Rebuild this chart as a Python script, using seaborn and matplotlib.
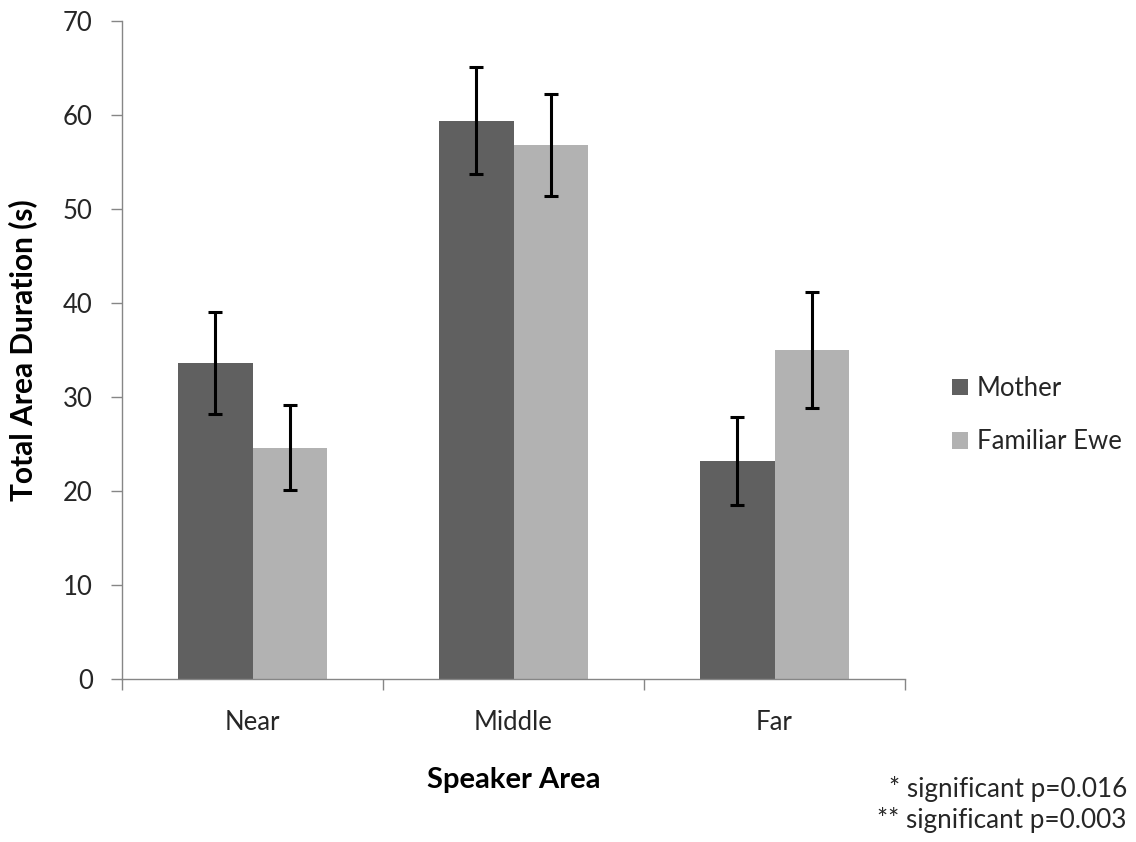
import matplotlib
matplotlib.use("Agg")
import matplotlib.pyplot as plt
import numpy as np
import pandas as pd
import seaborn as sns

# Mean time spent in each speaker area, with standard errors
areas = ["Near", "Middle", "Far"]
groups = ["Mother", "Familiar Ewe"]
mother_mean = [33.6, 59.4, 23.2]
mother_sem = [5.4, 5.7, 4.7]
ewe_mean = [24.6, 56.8, 35.0]
ewe_sem = [4.5, 5.4, 6.2]
y_ticks = [0, 10, 20, 30, 40, 50, 60, 70]
footnotes = ["* significant p=0.016", "** significant p=0.003"]

df = pd.DataFrame({
    "Speaker Area": areas * 2,
    "Duration": mother_mean + ewe_mean,
    "Group": [groups[0]] * 3 + [groups[1]] * 3,
})
sems = {groups[0]: mother_sem, groups[1]: ewe_sem}

sns.set_theme(style="white")
plt.rcParams["font.family"] = ["Lato", "DejaVu Sans"]

text_color = "#262626"
axis_color = "#868686"
colors = ["#606060", "#b2b2b2"]

fig = plt.figure(figsize=(11.36, 8.42), dpi=100)
ax = fig.add_axes([0.1074, 0.1936, 0.6893, 0.7815])

sns.barplot(data=df, x="Speaker Area", y="Duration", hue="Group",
            hue_order=groups, order=areas, palette=colors, width=0.57,
            errorbar=None, legend=False, saturation=1, linewidth=0, ax=ax)

bar_containers = list(ax.containers)
for cont, grp in zip(bar_containers, groups):
    xs = [p.get_x() + p.get_width() / 2 for p in cont.patches]
    hs = [p.get_height() for p in cont.patches]
    ax.errorbar(xs, hs, yerr=sems[grp], fmt="none", ecolor="black",
                elinewidth=2.2, capsize=4.7, capthick=2.2, zorder=5)

ax.set_xlim(-0.5, 2.5)
ax.set_ylim(0, 70)
ax.set_yticks(y_ticks)
ax.set_yticklabels([str(v) for v in y_ticks])

# category boundaries carry the tick marks, labels sit at the centres
ax.set_xticks([-0.5, 0.5, 1.5, 2.5], minor=True)
ax.tick_params(axis="x", which="major", length=0, pad=22,
               labelsize=18.5, labelcolor=text_color)
ax.tick_params(axis="x", which="minor", length=8, width=1, color=axis_color,
               direction="out", bottom=True)
ax.tick_params(axis="y", which="major", length=8, width=1, color=axis_color,
               direction="out", left=True, pad=13,
               labelsize=18.5, labelcolor=text_color)

for side in ["top", "right"]:
    ax.spines[side].set_visible(False)
for side in ["left", "bottom"]:
    ax.spines[side].set_color(axis_color)
    ax.spines[side].set_linewidth(1)

ax.set_xlabel("Speaker Area", fontsize=21, fontweight="bold", color="black")
ax.set_ylabel("Total Area Duration (s)", fontsize=21.5, fontweight="bold",
              color="black")
ax.xaxis.set_label_coords(0.5, -0.133)
ax.yaxis.set_label_coords(-0.108, 0.5)

fig.legend(handles=bar_containers, labels=groups, loc="center left",
           bbox_to_anchor=(0.838, 0.507), frameon=False, fontsize=18.5,
           handlelength=0.62, handleheight=0.62, handletextpad=0.35,
           labelspacing=1.1, borderpad=0, borderaxespad=0,
           labelcolor=text_color)

fig.text(0.992, 0.0635, footnotes[0], ha="right", va="center",
         fontsize=18.8, color=text_color)
fig.text(0.992, 0.0265, footnotes[1], ha="right", va="center",
         fontsize=18.8, color=text_color)

fig.savefig("out.png", dpi=100)
